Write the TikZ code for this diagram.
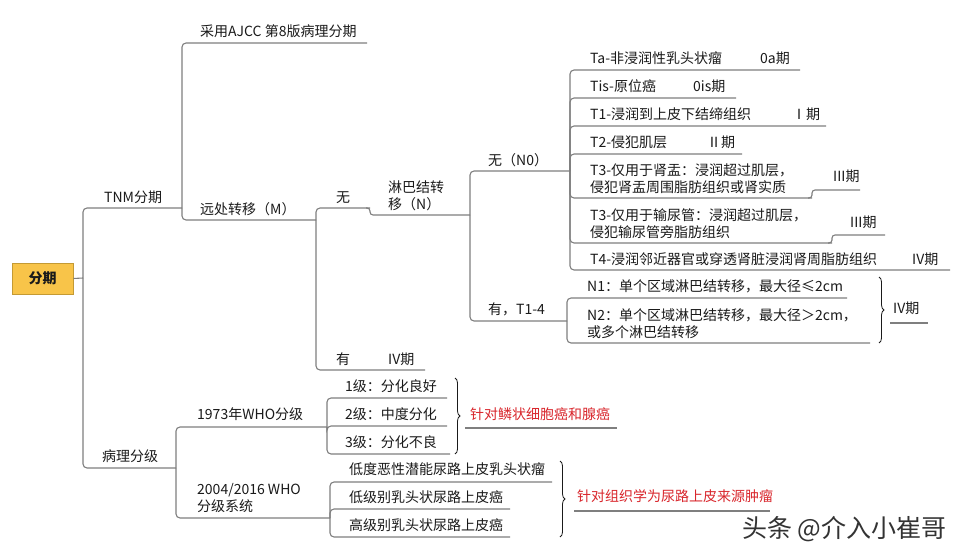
\documentclass[tikz,border=0pt]{standalone}
\usepackage{fontspec}
\setmainfont{Noto Sans CJK SC}
\usetikzlibrary{decorations.pathreplacing}
\definecolor{ln}{HTML}{7F7F7F}
\definecolor{tx}{HTML}{1A1A1A}
\definecolor{rd}{HTML}{D9262C}
\definecolor{rootfill}{HTML}{F8C449}
\definecolor{rootdraw}{HTML}{C49A34}
\begin{document}
\begin{tikzpicture}[x=1pt,y=-1pt,
  conn/.style={draw=ln, line width=1.1pt, rounded corners=4pt},
  stepline/.style={draw=ln, line width=1.1pt, rounded corners=3pt},
  lbl/.style={anchor=base west, inner sep=0pt, text=tx, font=\fontsize{14}{17}\selectfont, align=left},
  redlbl/.style={lbl, text=rd},
  rootbox/.style={draw=rootdraw, fill=rootfill, line width=0.8pt, minimum width=61pt, minimum height=31pt, inner sep=0pt, font=\fontsize{14}{17}\selectfont\bfseries, text=tx},
  bracestyle/.style={draw=tx, line width=0.8pt, decorate, decoration={brace, amplitude=5pt}},
  wmark/.style={anchor=base west, inner sep=0pt, text=black!80, font=\fontsize{25}{28}\selectfont}
]
\useasboundingbox[fill=white] (0,0) rectangle (960,556);

% root
\node[rootbox] (root) at (42.5,278.5) {分期};
\coordinate (trunk) at (83,278);
\draw[conn] (root.east) -- (trunk);

% level 1
\coordinate (tnm-e) at (182,208);
\node[lbl] (tnm) at (104,202) {TNM分期};
\draw[conn] (trunk) |- (tnm-e);
\coordinate (bl-e) at (176,468);
\node[lbl] (bl) at (102,461) {病理分级};
\draw[conn] (trunk) |- (bl-e);

% TNM children
\coordinate (ajcc-e) at (367,43);
\node[lbl] (ajcc) at (200,37) {采用AJCC 第8版病理分期};
\draw[conn] (tnm-e) |- (ajcc-e);
\coordinate (m-e) at (316,220);
\node[lbl] (m) at (200,214) {远处转移（M）};
\draw[conn] (tnm-e) |- (m-e);

% M children
\coordinate (wu-e) at (370,208);
\node[lbl] (wu) at (336,202) {无};
\draw[conn] (m-e) |- (wu-e);
\coordinate (you-e) at (425,370);
\node[lbl] (you) at (336,364) {有};
\node[lbl] (you4) at (388,364) {IV期};
\draw[conn] (m-e) |- (you-e);

% 无 -> 淋巴结转移
\coordinate (lb-e) at (470,215);
\node[lbl] (lb) at (388,209) {淋巴结转\\移（N）};
\draw[stepline] ([xshift=-4pt]wu-e) -- (wu-e) -- (wu-e |- lb-e) -- (lb-e);

% lymph children
\coordinate (n0-e) at (570,171);
\node[lbl] (n0) at (488,165) {无（N0）};
\draw[conn] (lb-e) |- (n0-e);
\coordinate (np-e) at (567,321);
\node[lbl] (np) at (488,314) {有，T1-4};
\draw[conn] (lb-e) |- (np-e);

% N0 children
\coordinate (ta-e) at (800,70);
\node[lbl] (ta) at (590,64) {Ta-非浸润性乳头状瘤};
\node[lbl] (tas) at (760,64) {0a期};
\draw[conn] (n0-e) |- (ta-e);
\coordinate (tis-e) at (736,98);
\node[lbl] (tis) at (590,92) {Tis-原位癌};
\node[lbl] (tiss) at (693,92) {0is期};
\draw[conn] (n0-e) |- (tis-e);
\coordinate (t1-e) at (826,126);
\node[lbl] (t1) at (590,120) {T1-浸润到上皮下结缔组织};
\node[lbl] (t1s) at (792,120) {Ⅰ期};
\draw[conn] (n0-e) |- (t1-e);
\coordinate (t2-e) at (742,154);
\node[lbl] (t2) at (590,148) {T2-侵犯肌层};
\node[lbl] (t2s) at (707,148) {Ⅱ期};
\draw[conn] (n0-e) |- (t2-e);
\coordinate (t3a-e) at (812,198);
\node[lbl] (t3a) at (590,192) {T3-仅用于肾盂：浸润超过肌层，\\侵犯肾盂周围脂肪组织或肾实质};
\draw[conn] (n0-e) |- (t3a-e);
\coordinate (t3as-e) at (860,190);
\node[lbl] (t3as) at (833,182) {III期};
\draw[stepline] ([xshift=-4pt]t3a-e) -- (t3a-e) -- (t3a-e |- t3as-e) -- (t3as-e);
\coordinate (t3b-e) at (832,243);
\node[lbl] (t3b) at (590,237) {T3-仅用于输尿管：浸润超过肌层，\\侵犯输尿管旁脂肪组织};
\draw[conn] (n0-e) |- (t3b-e);
\coordinate (t3bs-e) at (885,235);
\node[lbl] (t3bs) at (850,227) {III期};
\draw[stepline] ([xshift=-4pt]t3b-e) -- (t3b-e) -- (t3b-e |- t3bs-e) -- (t3bs-e);
\coordinate (t4-e) at (950,270);
\node[lbl] (t4) at (590,264) {T4-浸润邻近器官或穿透肾脏浸润肾周脂肪组织};
\node[lbl] (t4s) at (912,264) {IV期};
\draw[conn] (n0-e) |- (t4-e);

% N+ children
\coordinate (n1-e) at (847,298);
\node[lbl] (n1) at (587,291) {N1：单个区域淋巴结转移，最大径≤2cm};
\draw[conn] (np-e) |- (n1-e);
\coordinate (n2-e) at (870,343);
\node[lbl] (n2) at (587,337) {N2：单个区域淋巴结转移，最大径＞2cm，\\或多个淋巴结转移};
\draw[conn] (np-e) |- (n2-e);
\coordinate (bn-t) at (879,277);
\coordinate (bn-b) at (879,343);
\draw[bracestyle] (bn-t) -- (bn-b);
\coordinate (n4-s) at (890,323);
\coordinate (n4-e) at (928,323);
\node[lbl] (n4) at (893,313) {IV期};
\draw[conn] (n4-s) -- (n4-e);

% pathology children
\coordinate (w73-e) at (327,427);
\node[lbl] (w73) at (197,419) {1973年WHO分级};
\draw[conn] (bl-e) |- (w73-e);
\coordinate (w04-e) at (330,518);
\node[lbl] (w04) at (197,511) {2004/2016 WHO\\分级系统};
\draw[conn] (bl-e) |- (w04-e);

% 1973 grades
\coordinate (g1-e) at (447,398);
\node[lbl] (g1) at (345,391) {1级：分化良好};
\draw[conn] (w73-e) |- (g1-e);
\coordinate (g2-e) at (447,426);
\node[lbl] (g2) at (345,419) {2级：中度分化};
\draw[conn] (w73-e) |- (g2-e);
\coordinate (g3-e) at (450,454);
\node[lbl] (g3) at (345,447) {3级：分化不良};
\draw[conn] (w73-e) |- (g3-e);
\draw[bracestyle] (455,378) -- (455,454);
\coordinate (r1-s) at (465,428);
\coordinate (r1-e) at (617,428);
\node[redlbl] (r1) at (470,419) {针对鳞状细胞癌和腺癌};
\draw[conn] (r1-s) -- (r1-e);

% 2004/2016 grades
\coordinate (h1-e) at (552,482);
\node[lbl] (h1) at (349,474) {低度恶性潜能尿路上皮乳头状瘤};
\draw[conn] (w04-e) |- (h1-e);
\coordinate (h2-e) at (510,509);
\node[lbl] (h2) at (349,502) {低级别乳头状尿路上皮癌};
\draw[conn] (w04-e) |- (h2-e);
\coordinate (h3-e) at (510,537);
\node[lbl] (h3) at (349,530) {高级别乳头状尿路上皮癌};
\draw[conn] (w04-e) |- (h3-e);
\draw[bracestyle] (560,461) -- (560,537);
\coordinate (r2-s) at (574,511);
\coordinate (r2-e) at (770,511);
\node[redlbl] (r2) at (577,501) {针对组织学为尿路上皮来源肿瘤};
\draw[conn] (r2-s) -- (r2-e);

% footer mark
\node[wmark] (wm) at (742,537) {头条 @介入小崔哥};
\end{tikzpicture}
\end{document}
